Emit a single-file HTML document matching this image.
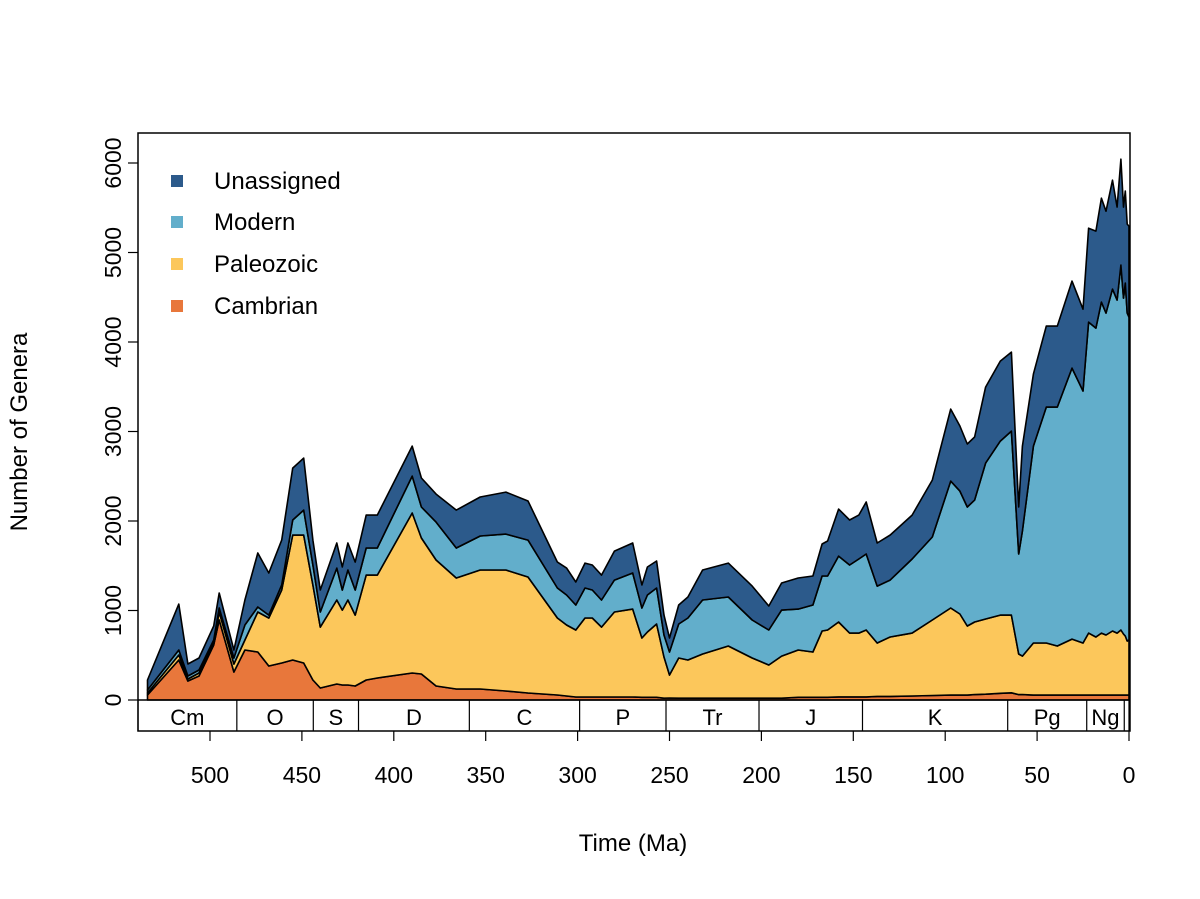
<!DOCTYPE html>
<html><head><meta charset="utf-8"><style>
body{margin:0;background:#fff}
svg text{font-family:"Liberation Sans",Arial,sans-serif;fill:#000}
</style></head><body>
<svg id="chart" width="1200" height="894" xmlns="http://www.w3.org/2000/svg">
<g id="areas"></g>
<g id="periods"></g>
<rect x="138" y="133" width="992" height="598" fill="none" stroke="#000" stroke-width="1.5"/>
<g id="axes"></g>
<text x="633" y="851" font-size="24" text-anchor="middle">Time (Ma)</text>
<text transform="translate(27,432) rotate(-90)" font-size="24" text-anchor="middle">Number of Genera</text>
<g id="legend"></g>
</svg>
<script>
const times=[534,517,512,506,498,495,487,481,474,468,461,455,449,444,440,431,428,425,421,415,409,390,385,377,366,353,339,327,311,306,301,296,292,287,280,270,265,262,257,253,250,245,240,232,218,205,196,189,180,172,167,164,158,152,147,143,137,130,118,107,97,92,88,84,78,70,64,60,58,52,45,39,31,25,22,18,15,12.5,9,6.5,4.4,3,2,1,0];
const cambrian=[56,447,212,268,614,894,313,559,536,380,413,447,413,223,134,179,168,168,156,223,246,302,290,156,123,123,101,78,56,45,34,34,34,34,34,34,30,30,30,20,22,20,20,20,20,20,20,20,30,30,30,30,35,35,35,35,40,40,45,50,55,55,55,60,65,75,80,60,60,55,55,55,55,55,55,55,55,55,55,55,55,55,55,55,55];
const paleozoic=[22,56,23,34,34,89,89,111,447,536,816,1396,1430,1062,681,938,837,949,793,1173,1150,1787,1520,1408,1240,1329,1351,1296,860,793,748,882,882,781,949,982,663,730,819,460,257,449,427,494,583,449,371,471,529,506,741,752,836,713,713,747,597,664,703,844,973,906,772,811,840,874,869,454,431,582,582,548,626,582,693,649,693,671,716,693,727,682,660,604,615];
const modern=[34,56,33,33,22,45,67,168,56,33,56,168,279,223,168,357,224,335,280,302,302,413,346,424,335,380,402,413,335,335,279,335,313,302,357,403,335,413,402,246,257,380,469,603,548,425,391,514,457,525,614,603,737,760,827,849,636,636,827,927,1418,1373,1329,1363,1742,1944,2056,1117,1397,2200,2636,2670,3027,2815,3474,3451,3698,3597,3820,3720,4077,3753,3943,3664,3608];
const unassigned=[111,513,134,134,157,167,90,279,603,470,502,580,581,279,246,280,257,302,312,368,368,335,324,313,424,436,469,436,290,301,257,279,279,279,324,335,257,313,302,223,157,212,235,335,379,379,268,302,347,324,358,391,525,503,491,581,481,503,491,636,804,727,704,704,849,894,882,525,949,804,905,905,972,915,1050,1084,1161,1139,1217,1039,1184,1017,1028,994,1017];
const seriesNames=["Cambrian","Paleozoic","Modern","Unassigned"];
const seriesColors=["#e8773b","#fcc75b","#62aecb","#2c5a8b"];
const periodNames=["Cm","O","S","D","C","P","Tr","J","K","Pg","Ng",""];
const periodBounds=[539,485.4,443.8,419.2,358.9,298.9,251.9,201.3,145,66,23,2.58,0];
const xTicks=[500,450,400,350,300,250,200,150,100,50,0];
const yTicks=[0,1000,2000,3000,4000,5000,6000];

const X=t=>1129-t*1.838;
const Y=v=>700-v*0.0895;
const NS="http://www.w3.org/2000/svg";
function mk(tag,attrs,parent){const e=document.createElementNS(NS,tag);for(const k in attrs)e.setAttribute(k,attrs[k]);parent.appendChild(e);return e;}

const series=[cambrian,paleozoic,modern,unassigned];
const areas=document.getElementById('areas');
let base=times.map(()=>0);
series.forEach((s,i)=>{
  const top=base.map((b,j)=>b+s[j]);
  let d="M"+times.map((t,j)=>X(t).toFixed(1)+","+Y(top[j]).toFixed(1)).join("L");
  for(let j=times.length-1;j>=0;j--)d+="L"+X(times[j]).toFixed(1)+","+Y(base[j]).toFixed(1);
  d+="Z";
  const p=mk('path',{d:d,fill:seriesColors[i],stroke:"#000","stroke-width":"1.6","stroke-linejoin":"round"},areas);
  
  
  base=top;
});

const per=document.getElementById('periods');
mk('line',{x1:138,x2:1130,y1:700,y2:700,stroke:"#000","stroke-width":"1.5"},per);
for(let i=0;i<periodBounds.length;i++){
  const x=i===0?138:X(periodBounds[i]);
  const l=mk('line',{x1:x,x2:x,y1:700,y2:731,stroke:"#000","stroke-width":"1.2"},per);
  
  
  if(i<periodNames.length&&periodNames[i]){
    const x0=i===0?138:X(periodBounds[i]);const x1=X(periodBounds[i+1]);
    const tx=mk('text',{x:(x0+x1)/2,y:725,"font-size":"22","text-anchor":"middle"},per);
    tx.textContent=periodNames[i];
    
    
  }
}

const ax=document.getElementById('axes');
xTicks.forEach(t=>{
  const x=X(t);
  mk('line',{x1:x,x2:x,y1:731,y2:741,stroke:"#000","stroke-width":"1.2"},ax);
  const tx=mk('text',{x:x,y:783,"font-size":"23","text-anchor":"middle"},ax);
  tx.textContent=t;
  
  
});
yTicks.forEach(v=>{
  const y=Y(v);
  mk('line',{x1:128,x2:138,y1:y,y2:y,stroke:"#000","stroke-width":"1.2"},ax);
  const tx=mk('text',{transform:"translate(121,"+y+") rotate(-90)","font-size":"23","text-anchor":"middle"},ax);
  tx.textContent=v;
  
  
});

const lg=document.getElementById('legend');
const order=[3,2,1,0];const ly=[181,222,264,306];
order.forEach((si,k)=>{
  const g=mk('g',{},lg);
  
  
  mk('rect',{x:171,y:ly[k]-6,width:12,height:12,fill:seriesColors[si]},g);
  const tx=mk('text',{x:214,y:ly[k]+8,"font-size":"24"},g);
  tx.textContent=seriesNames[si];
});
</script>
</body></html>
